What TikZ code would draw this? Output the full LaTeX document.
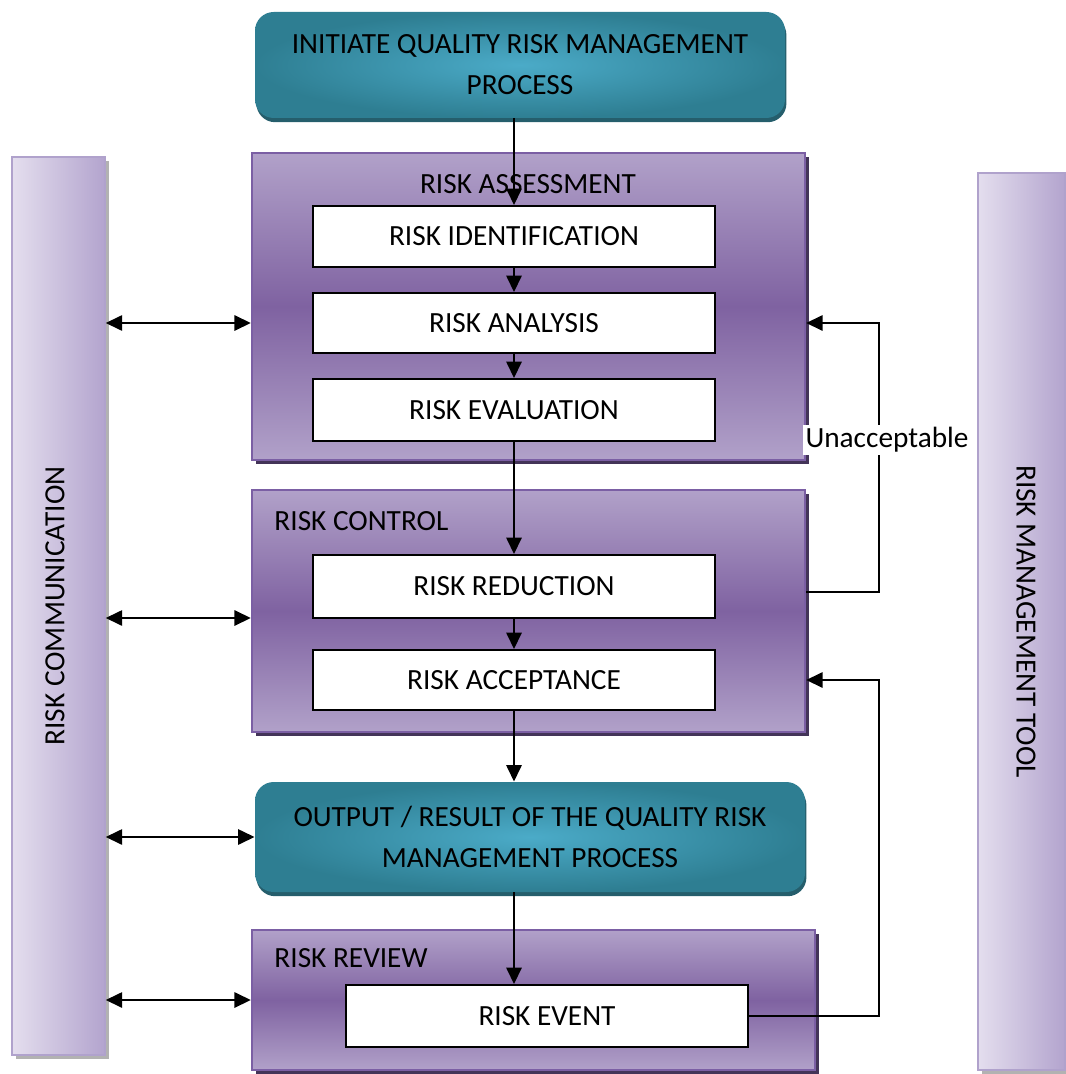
\documentclass[tikz,border=0pt]{standalone}
\usepackage{fontspec}
\setmainfont{Carlito}
\usepackage{tikz}
\usetikzlibrary{positioning,arrows.meta,shadows}
\definecolor{tealin}{HTML}{4BABC8}
\definecolor{tealout}{HTML}{2E7E92}
\definecolor{tealshadow}{HTML}{255E6C}
\definecolor{purplight}{HTML}{B1A1C9}
\definecolor{purpdark}{HTML}{7F62A1}
\definecolor{purpborder}{HTML}{7B5FA4}
\definecolor{purpshadow}{HTML}{433458}
\definecolor{barlight}{HTML}{E4DEEE}
\definecolor{barmid}{HTML}{B3A4CE}
\definecolor{barborder}{HTML}{B0A2CC}

\begin{document}
\begin{tikzpicture}[x=0.015cm,y=-0.015cm,
  every node/.style={font=\fontsize{12.5}{17.5}\selectfont,inner sep=0pt,align=center},
  phase/.style={draw=purpborder,line width=1pt,top color=purplight,bottom color=purplight,middle color=purpdark,
    drop shadow={shadow xshift=1.8pt,shadow yshift=-1.8pt,fill=purpshadow,opacity=1}},
  stepbox/.style={draw=black,fill=white,line width=0.8pt,minimum width=402*\px},
  endbox/.style={rounded corners=8pt,inner color=tealin,outer color=tealout,
    drop shadow={shadow xshift=0.6pt,shadow yshift=-1.8pt,fill=tealshadow,opacity=1}},
  sidebar/.style={draw=barborder,line width=0.6pt,left color=barlight,right color=barmid,
    drop shadow={shadow xshift=1.5pt,shadow yshift=-1.5pt,fill=black!30,opacity=1}},
  arr/.style={line width=0.9pt,-{Triangle[length=7pt,width=6.5pt]}},
  dbl/.style={line width=0.9pt,{Triangle[length=7pt,width=6.5pt]}-{Triangle[length=7pt,width=6.5pt]}}]
  \def\px{0.015cm}
  \useasboundingbox (0,0) rectangle (1065,1074);

  \node[sidebar,minimum width=93*\px,minimum height=898*\px] (comm) at (58.5,606) {};
  \node[rotate=90] (commtext) at (55,606) {RISK COMMUNICATION};
  \node[sidebar,minimum width=87*\px,minimum height=897*\px] (tool) at (1021.5,621.5) {};
  \node[rotate=-90] (tooltext) at (1026,621.5) {RISK MANAGEMENT TOOL};

  \node[endbox,minimum width=530*\px,minimum height=106*\px] (init) at (520,65)
    {INITIATE QUALITY RISK MANAGEMENT\\PROCESS};

  \node[phase,minimum width=553*\px,minimum height=307*\px] (assess) at (528.5,306.5) {};
  \node (assesstitle) at (528,184) {RISK ASSESSMENT};
  \node[stepbox,minimum height=61*\px] (ident) at (514,236.5) {RISK IDENTIFICATION};
  \node[stepbox,minimum height=60*\px] (analysis) at (514,323) {RISK ANALYSIS};
  \node[stepbox,minimum height=62*\px] (evaluation) at (514,410) {RISK EVALUATION};

  \node[phase,minimum width=553*\px,minimum height=242*\px] (control) at (528.5,611) {};
  \node[anchor=west] (controltitle) at (274,521) {RISK CONTROL};
  \node[stepbox,minimum height=63*\px] (reduction) at (514,586.5) {RISK REDUCTION};
  \node[stepbox,minimum height=60*\px] (acceptance) at (514,680) {RISK ACCEPTANCE};

  \node[endbox,minimum width=550*\px,minimum height=110*\px] (output) at (530,837)
    {OUTPUT / RESULT OF THE QUALITY RISK\\MANAGEMENT PROCESS};

  \node[phase,minimum width=563*\px,minimum height=140*\px] (review) at (533.5,1000) {};
  \node[anchor=west] (reviewtitle) at (274,958) {RISK REVIEW};
  \node[stepbox,minimum height=62*\px] (event) at (547,1016) {RISK EVENT};

  \draw[arr] (init.south -| ident.north) -- (ident.north);
  \draw[arr] (ident) -- (analysis);
  \draw[arr] (analysis) -- (evaluation);
  \draw[arr] (evaluation) -- (reduction);
  \draw[arr] (reduction) -- (acceptance);
  \draw[arr] (acceptance) -- (acceptance.south |- output.north);
  \draw[arr] (acceptance.south |- output.south) -- (acceptance.south |- event.north);

  \draw[dbl] (comm.east |- analysis) -- (assess.west |- analysis);
  \draw[dbl] (comm.east |- 0,618) -- (control.west |- 0,618);
  \draw[dbl] (comm.east |- output) -- (output.west);
  \draw[dbl] (comm.east |- review) -- (review.west);

  \draw[arr] (control.east |- 0,592) -- ++(73,0) |- (assess.east |- analysis);
  \node[fill=white,inner sep=1pt] (unacc) at (887,440) {Unacceptable};
  \draw[arr] (event.east) -- ++(130,0) |- (control.east |- acceptance);
\end{tikzpicture}
\end{document}
